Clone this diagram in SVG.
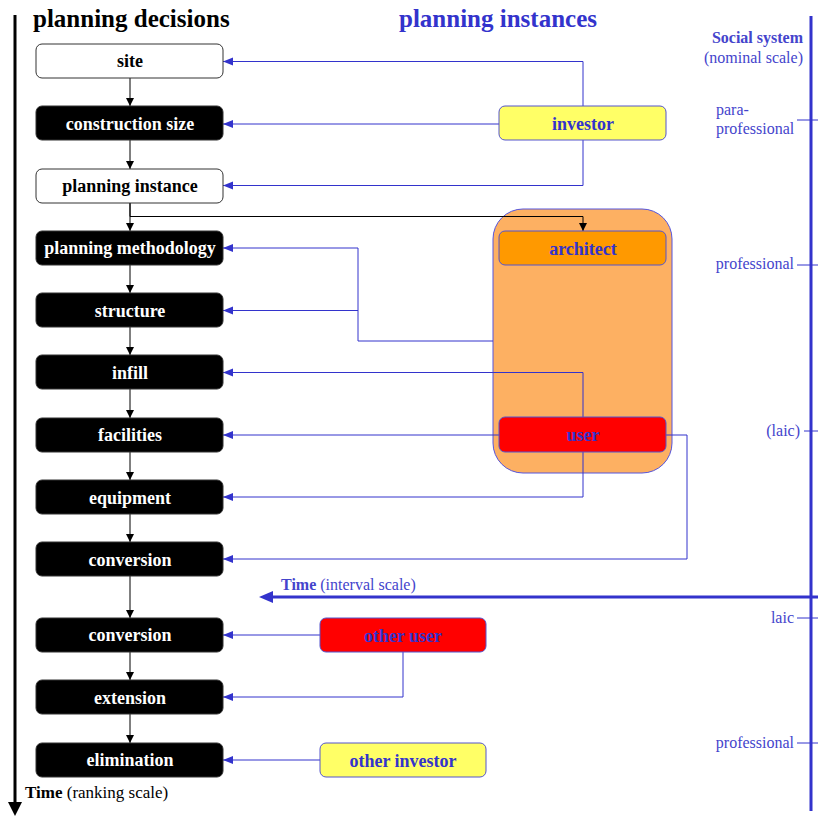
<svg xmlns="http://www.w3.org/2000/svg" width="818" height="816" viewBox="0 0 818 816">
<style>
.t{font-family:"Liberation Serif","Times New Roman",serif}
.nb{fill:#000;stroke:#333;stroke-width:1}
.nw{fill:#fff;stroke:#333;stroke-width:1}
.lw{font-family:"Liberation Serif",serif;font-weight:bold;font-size:18px;fill:#fff;text-anchor:middle}
.lk{font-family:"Liberation Serif",serif;font-weight:bold;font-size:18px;fill:#000;text-anchor:middle}
.lb{font-family:"Liberation Serif",serif;font-weight:bold;font-size:18px;fill:#3333cc;text-anchor:middle}
.inst{stroke:#5555cc;stroke-width:1}
.bl{fill:none;stroke:#3333cc;stroke-width:1}
.bk{fill:none;stroke:#000;stroke-width:1}
.sc{font-family:"Liberation Serif",serif;font-size:16px;fill:#4444cc}
</style>
<defs>
<marker id="ab" markerUnits="userSpaceOnUse" markerWidth="11" markerHeight="9" refX="10" refY="4" orient="auto"><path d="M0,0 L10,4 L0,8 z" fill="#3333cc"/></marker>
<marker id="ak" markerUnits="userSpaceOnUse" markerWidth="9" markerHeight="9" refX="8" refY="4" orient="auto"><path d="M0,0 L8,4 L0,8 z" fill="#000"/></marker>
</defs>

<!-- axes -->
<g id="axes">
<line x1="15" y1="15" x2="15" y2="804" stroke="#000" stroke-width="3"/>
<path d="M8,802 L22,802 L15,816 z" fill="#000"/>
<text class="t" x="25" y="798" font-size="17"><tspan font-weight="bold">Time</tspan> (ranking scale)</text>
<line x1="811" y1="16" x2="811" y2="811" stroke="#3333cc" stroke-width="3"/>
<line x1="818" y1="597" x2="270" y2="597" stroke="#3333cc" stroke-width="3"/>
<path d="M259,597 L273,591 L273,603 z" fill="#3333cc"/>
<text class="sc" x="281" y="590" font-size="17"><tspan font-weight="bold">Time</tspan> (interval scale)</text>
<text class="sc" x="803" y="43" text-anchor="end" font-weight="bold" font-size="18">Social system</text>
<text class="sc" x="803" y="63" text-anchor="end" font-size="17">(nominal scale)</text>
<text class="sc" x="716" y="115" font-size="15">para-</text>
<text class="sc" x="716" y="134" font-size="15">professional</text>
<line x1="797" y1="120" x2="818" y2="120" stroke="#3333cc" stroke-width="1"/>
<text class="sc" x="794" y="269" text-anchor="end" font-size="15">professional</text>
<line x1="797" y1="265" x2="818" y2="265" stroke="#3333cc" stroke-width="1"/>
<text class="sc" x="800" y="436" text-anchor="end" font-size="13">(laic)</text>
<line x1="804" y1="431" x2="818" y2="431" stroke="#3333cc" stroke-width="1"/>
<text class="sc" x="794" y="623" text-anchor="end" font-size="15">laic</text>
<line x1="797" y1="618" x2="818" y2="618" stroke="#3333cc" stroke-width="1"/>
<text class="sc" x="794" y="748" text-anchor="end" font-size="15">professional</text>
<line x1="797" y1="743" x2="818" y2="743" stroke="#3333cc" stroke-width="1"/>
</g>

<!-- titles -->
<text class="t" x="33" y="27" font-size="25" font-weight="bold" fill="#000">planning decisions</text>
<text class="t" x="498" y="27" font-size="25" font-weight="bold" fill="#3333cc" text-anchor="middle">planning instances</text>

<!-- group background -->
<g id="instance-group">
<rect x="493" y="209" width="179" height="264" rx="30" fill="#fdb062" stroke="#5555dd" stroke-width="1"/>
</g>

<!-- connectors -->
<g id="connectors">
<line class="bk" x1="130" y1="78" x2="130" y2="106" marker-end="url(#ak)"/>
<line class="bk" x1="130" y1="140" x2="130" y2="169" marker-end="url(#ak)"/>
<line class="bk" x1="130" y1="203" x2="130" y2="231" marker-end="url(#ak)"/>
<line class="bk" x1="130" y1="265" x2="130" y2="293" marker-end="url(#ak)"/>
<line class="bk" x1="130" y1="327" x2="130" y2="355" marker-end="url(#ak)"/>
<line class="bk" x1="130" y1="389" x2="130" y2="418" marker-end="url(#ak)"/>
<line class="bk" x1="130" y1="452" x2="130" y2="480" marker-end="url(#ak)"/>
<line class="bk" x1="130" y1="514" x2="130" y2="542" marker-end="url(#ak)"/>
<line class="bk" x1="130" y1="576" x2="130" y2="618" marker-end="url(#ak)"/>
<line class="bk" x1="130" y1="652" x2="130" y2="680" marker-end="url(#ak)"/>
<line class="bk" x1="130" y1="714" x2="130" y2="743" marker-end="url(#ak)"/>
<path class="bk" d="M130,203 V216.5 H583 V231" marker-end="url(#ak)"/>
<path class="bl" d="M583,106 V61.5 H223" marker-end="url(#ab)"/>
<path class="bl" d="M499,124 H223" marker-end="url(#ab)"/>
<path class="bl" d="M583,140 V185.5 H223" marker-end="url(#ab)"/>
<path class="bl" d="M493,341 H358 V248 H223" marker-end="url(#ab)"/>
<path class="bl" d="M358,310.5 H223" marker-end="url(#ab)"/>
<path class="bl" d="M583,417 V372.5 H223" marker-end="url(#ab)"/>
<path class="bl" d="M499,435 H223" marker-end="url(#ab)"/>
<path class="bl" d="M583,452 V497 H223" marker-end="url(#ab)"/>
<path class="bl" d="M666,435 H687 V559 H223" marker-end="url(#ab)"/>
<path class="bl" d="M320,635 H223" marker-end="url(#ab)"/>
<path class="bl" d="M403,652 V697 H223" marker-end="url(#ab)"/>
<path class="bl" d="M320,760 H223" marker-end="url(#ab)"/>
</g>

<!-- decision nodes -->
<g id="site"><rect class="nw" x="36" y="44" width="187" height="34" rx="6"/><text class="lk" x="130" y="67">site</text></g>
<g id="construction-size"><rect class="nb" x="36" y="106" width="187" height="34" rx="6"/><text class="lw" x="130" y="130">construction size</text></g>
<g id="planning-instance"><rect class="nw" x="36" y="169" width="187" height="34" rx="6"/><text class="lk" x="130" y="192">planning instance</text></g>
<g id="planning-methodology"><rect class="nb" x="36" y="231" width="187" height="34" rx="6"/><text class="lw" x="130" y="254">planning methodology</text></g>
<g id="structure"><rect class="nb" x="36" y="293" width="187" height="34" rx="6"/><text class="lw" x="130" y="317">structure</text></g>
<g id="infill"><rect class="nb" x="36" y="355" width="187" height="34" rx="6"/><text class="lw" x="130" y="379">infill</text></g>
<g id="facilities"><rect class="nb" x="36" y="418" width="187" height="34" rx="6"/><text class="lw" x="130" y="441">facilities</text></g>
<g id="equipment"><rect class="nb" x="36" y="480" width="187" height="34" rx="6"/><text class="lw" x="130" y="504">equipment</text></g>
<g id="conversion-1"><rect class="nb" x="36" y="542" width="187" height="34" rx="6"/><text class="lw" x="130" y="566">conversion</text></g>
<g id="conversion-2"><rect class="nb" x="36" y="618" width="187" height="34" rx="6"/><text class="lw" x="130" y="641">conversion</text></g>
<g id="extension"><rect class="nb" x="36" y="680" width="187" height="34" rx="6"/><text class="lw" x="130" y="704">extension</text></g>
<g id="elimination"><rect class="nb" x="36" y="743" width="187" height="34" rx="6"/><text class="lw" x="130" y="766">elimination</text></g>

<!-- instance nodes -->
<g id="investor"><rect class="inst" x="499" y="106" width="167" height="34" rx="6" fill="#ffff66"/><text class="lb" x="583" y="130">investor</text></g>
<g id="architect"><rect class="inst" x="499" y="231" width="167" height="34" rx="6" fill="#ff9900"/><text class="lb" x="583" y="255">architect</text></g>
<g id="user"><rect class="inst" x="499" y="417" width="167" height="35" rx="6" fill="#ff0000"/><text class="lb" x="583" y="441">user</text></g>
<g id="other-user"><rect class="inst" x="320" y="618" width="166" height="34" rx="6" fill="#ff0000"/><text class="lb" x="403" y="642">other user</text></g>
<g id="other-investor"><rect class="inst" x="320" y="743" width="166" height="34" rx="6" fill="#ffff66"/><text class="lb" x="403" y="767">other investor</text></g>
</svg>
